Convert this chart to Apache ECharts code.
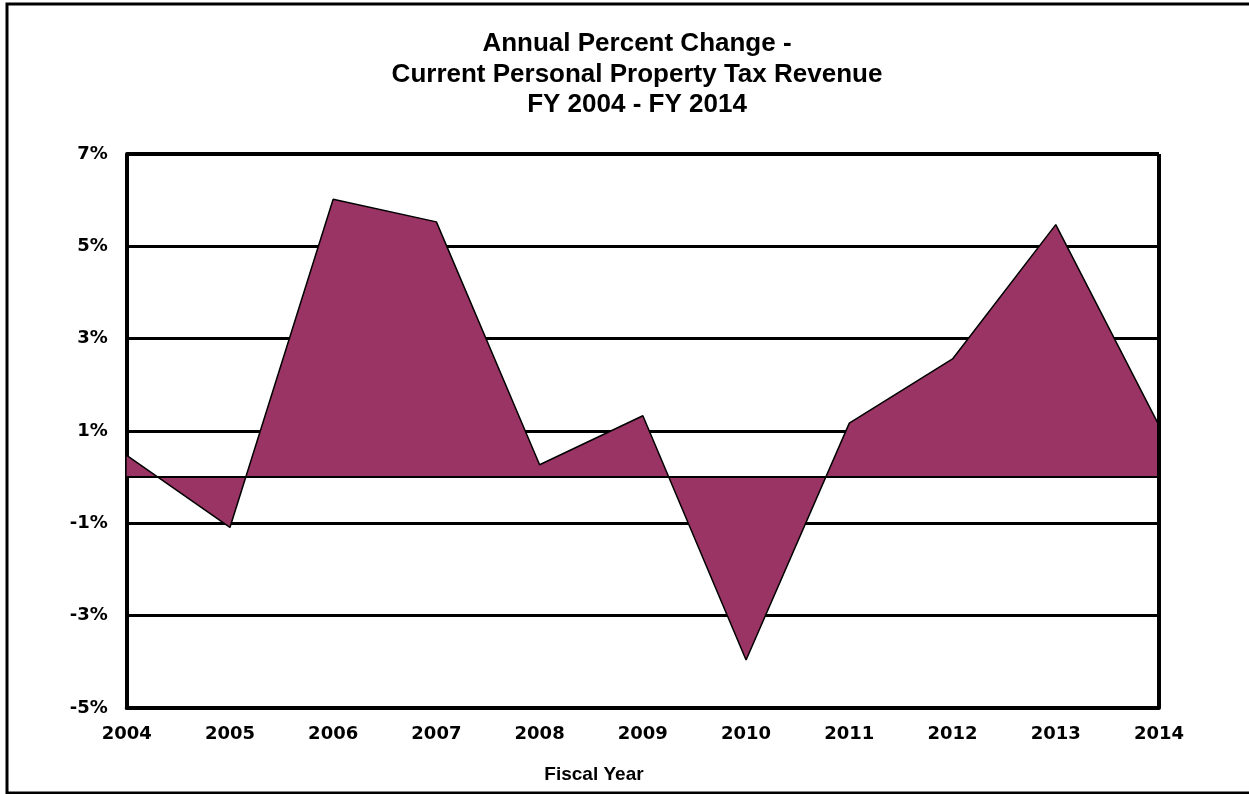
<!DOCTYPE html>
<html>
<head>
<meta charset="utf-8">
<script src="https://cdn.jsdelivr.net/npm/echarts@6/dist/echarts.min.js"></script>
<style>
html,body{margin:0;padding:0;background:#fff;}
#c{width:1249px;height:794px;}
</style>
</head>
<body>
<div id="c"></div>
<script>
var years = ['2004','2005','2006','2007','2008','2009','2010','2011','2012','2013','2014'];
var pctChange = [0.47, -1.09, 6.02, 5.53, 0.27, 1.33, -3.96, 1.17, 2.56, 5.47, 1.12];
var titleLines = ['Annual Percent Change -', 'Current Personal Property Tax Revenue', 'FY 2004 - FY 2014'];
var xAxisName = 'Fiscal Year';

var chart = echarts.init(document.getElementById('c'), null, {renderer: 'canvas'});
chart.setOption({
  backgroundColor: '#fff',
  animation: false,
  title: {
    text: titleLines.join('\n'),
    left: 632,
    textAlign: 'center',
    top: 24,
    textStyle: {
      fontFamily: 'Liberation Sans, Arial, sans-serif',
      fontWeight: 'bold',
      fontSize: 26,
      lineHeight: 30.5,
      color: '#000'
    }
  },
  graphic: [{
    type: 'rect',
    shape: {x: 7, y: 4, width: 1280, height: 789},
    style: {fill: 'none', stroke: '#000', lineWidth: 3},
    z: 100
  }, {
    type: 'text',
    x: 594, y: 775,
    style: {
      text: xAxisName,
      align: 'center', verticalAlign: 'middle',
      font: 'bold 19px "Liberation Sans", Arial, sans-serif',
      fill: '#000'
    },
    z: 100
  }],
  grid: {
    left: 126.7, right: 90, top: 154, bottom: 86,
    show: true, borderColor: '#000', borderWidth: 0
  },
  xAxis: {
    type: 'category',
    data: years,
    boundaryGap: false,
    axisLine: {onZero: false, lineStyle: {color: '#000', width: 4}},
    axisTick: {show: false},
    axisLabel: {
      margin: 17,
      fontFamily: 'DejaVu Sans, sans-serif',
      fontWeight: 'bold', fontSize: 18, color: '#000'
    },
    splitLine: {show: false}
  },
  yAxis: {
    type: 'value',
    min: -5, max: 7, interval: 2,
    axisLine: {show: true, lineStyle: {color: '#000', width: 4}},
    axisTick: {show: false},
    axisLabel: {
      margin: 19,
      formatter: '{value}%',
      fontFamily: 'DejaVu Sans, sans-serif',
      fontWeight: 'bold', fontSize: 18, color: '#000'
    },
    splitLine: {show: true, lineStyle: {color: '#000', width: 3}}
  },
  series: [{
    type: 'line',
    data: pctChange,
    symbol: 'none',
    lineStyle: {color: '#000', width: 1.5},
    areaStyle: {color: '#993464', opacity: 1, origin: 0},
    markLine: {
      silent: true,
      symbol: 'none',
      label: {show: false},
      lineStyle: {color: '#000', width: 2, type: 'solid'},
      data: [{yAxis: 0}],
      z: 10
    },
    z: 3
  }, {
    type: 'line',
    data: [],
    markLine: {
      silent: true, symbol: 'none', label: {show: false},
      lineStyle: {color: '#000', width: 4, type: 'solid'},
      data: [[{coord: ['2014', -5]}, {coord: ['2014', 7]}], [{coord: ['2004', 7]}, {coord: ['2014', 7]}]]
    }
  }]
});
</script>
</body>
</html>
